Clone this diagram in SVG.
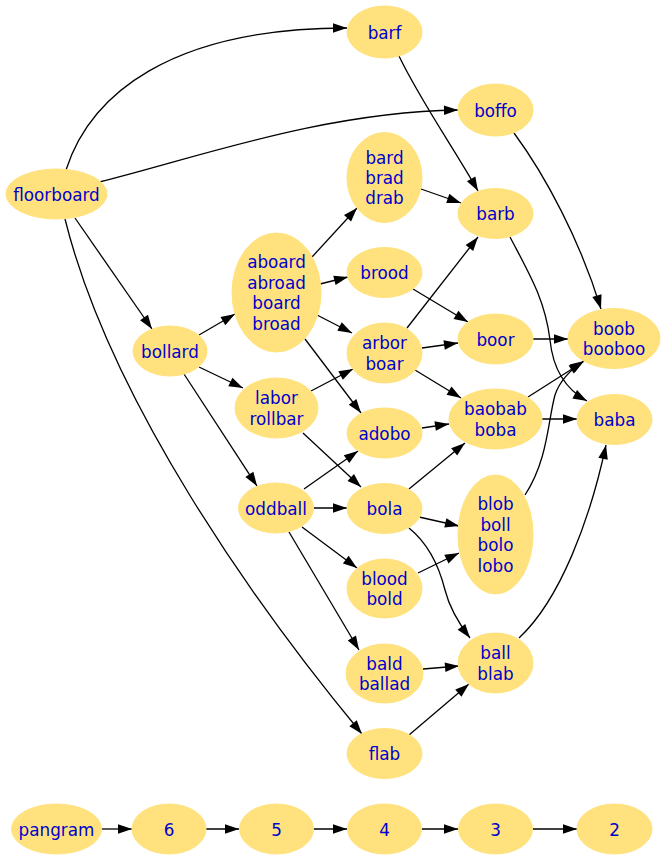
<svg xmlns="http://www.w3.org/2000/svg" width="666" height="860" viewBox="0 0 666 860">
<defs>
<marker id="arr" markerWidth="14" markerHeight="10" refX="14" refY="5" orient="auto" markerUnits="userSpaceOnUse" overflow="visible">
<path d="M0,0.2 L14,5 L0,9.8 z" fill="#000"/>
</marker>
</defs>
<style>
.n ellipse{fill:#ffe27d;stroke:#ffe27d;stroke-width:1}
.n text{font-family:"DejaVu Sans","Liberation Sans",sans-serif;font-size:16.8px;fill:#0000cd;text-anchor:middle}
#edges path{fill:none;stroke:#000;stroke-width:1.3;marker-end:url(#arr)}
</style>
<rect width="666" height="860" fill="#fff"/>
<g id="edges">
<path d="M66,170 C90,95 170,28 347,28"/>
<path d="M99,182 C190,160 320,112 458,110"/>
<path d="M75,218 L152,329"/>
<path d="M65,219 C110,400 255,605 362,734"/>
<path d="M399,56 C420,100 455,150 478,191"/>
<path d="M514,133 C545,175 580,240 601,309"/>
<path d="M421,189 L461,203"/>
<path d="M312,257 L357,208"/>
<path d="M320,284 L348,277"/>
<path d="M317,315 L352,333"/>
<path d="M305,339 L361,413"/>
<path d="M199,335 L235,314"/>
<path d="M199,367 L243,388"/>
<path d="M184,374 L257,486"/>
<path d="M413,289 L468,322"/>
<path d="M407,328 L478,237"/>
<path d="M422,348 L458,343"/>
<path d="M415,370 L461,398"/>
<path d="M311,391 L353,369"/>
<path d="M303,433 L361,487"/>
<path d="M510,237 C530,275 545,300 550,340 C553,370 567,390 587,401"/>
<path d="M533,339 L568,339"/>
<path d="M528,397 L583,362"/>
<path d="M542,419 L577,419"/>
<path d="M422,428 L449,424"/>
<path d="M304,489 L358,451"/>
<path d="M314,508 L347,508"/>
<path d="M302,527 L357,568"/>
<path d="M289,532 L359,650"/>
<path d="M409,489 L465,443"/>
<path d="M419,517 L459,526"/>
<path d="M409,528 C430,545 440,570 445,590 C450,610 460,625 470,638"/>
<path d="M418,573 L459,553"/>
<path d="M525,495 C548,460 548,420 555,395 C560,380 570,370 584,361"/>
<path d="M423,669 L459,666"/>
<path d="M409,735 L469,684"/>
<path d="M519,638 C560,600 590,520 606,445"/>
<path d="M101,829 L132,829"/>
<path d="M206,829 L239,829"/>
<path d="M313,829 L347,829"/>
<path d="M422,829 L458,829"/>
<path d="M533,829 L577,829"/>
</g>
<g id="barf" class="n"><ellipse cx="384.5" cy="32" rx="37.5" ry="26"/><text x="384.5" y="38.5">barf</text></g>
<g id="boffo" class="n"><ellipse cx="495.5" cy="110" rx="37.5" ry="26"/><text x="495.5" y="116.5">boffo</text></g>
<g id="floorboard" class="n"><ellipse cx="56.5" cy="194" rx="50.5" ry="25"/><text x="56.5" y="200.5">floorboard</text></g>
<g id="bard" class="n"><ellipse cx="384.5" cy="177.5" rx="37.5" ry="45"/><text x="384.5" y="163.6">bard</text><text x="384.5" y="184">brad</text><text x="384.5" y="204.4">drab</text></g>
<g id="barb" class="n"><ellipse cx="495.5" cy="213.5" rx="37.5" ry="25"/><text x="495.5" y="220">barb</text></g>
<g id="aboard" class="n"><ellipse cx="276.5" cy="292.5" rx="44.5" ry="59.5"/><text x="276.5" y="268.4">aboard</text><text x="276.5" y="288.8">abroad</text><text x="276.5" y="309.2">board</text><text x="276.5" y="329.6">broad</text></g>
<g id="brood" class="n"><ellipse cx="384.5" cy="272.5" rx="37.5" ry="25"/><text x="384.5" y="279">brood</text></g>
<g id="bollard" class="n"><ellipse cx="170" cy="351" rx="37" ry="25"/><text x="170" y="357.5">bollard</text></g>
<g id="arbor" class="n"><ellipse cx="384.5" cy="353" rx="37.5" ry="30"/><text x="384.5" y="349.3">arbor</text><text x="384.5" y="369.7">boar</text></g>
<g id="boor" class="n"><ellipse cx="495.5" cy="339" rx="37.5" ry="25"/><text x="495.5" y="345.5">boor</text></g>
<g id="boob" class="n"><ellipse cx="614" cy="338.5" rx="46" ry="30"/><text x="614" y="334.8">boob</text><text x="614" y="355.2">booboo</text></g>
<g id="labor" class="n"><ellipse cx="276.5" cy="408" rx="41.5" ry="30"/><text x="276.5" y="404.3">labor</text><text x="276.5" y="424.7">rollbar</text></g>
<g id="adobo" class="n"><ellipse cx="384.5" cy="433" rx="37.5" ry="25"/><text x="384.5" y="439.5">adobo</text></g>
<g id="baobab" class="n"><ellipse cx="495.5" cy="419" rx="46.5" ry="30"/><text x="495.5" y="415.3">baobab</text><text x="495.5" y="435.7">boba</text></g>
<g id="baba" class="n"><ellipse cx="614.5" cy="419.5" rx="37.5" ry="25"/><text x="614.5" y="426">baba</text></g>
<g id="oddball" class="n"><ellipse cx="276" cy="508" rx="37.5" ry="25"/><text x="276" y="514.5">oddball</text></g>
<g id="bola" class="n"><ellipse cx="384.5" cy="508.5" rx="37.5" ry="25"/><text x="384.5" y="515">bola</text></g>
<g id="blob" class="n"><ellipse cx="495.5" cy="534.5" rx="37.5" ry="59.5"/><text x="495.5" y="510.4">blob</text><text x="495.5" y="530.8">boll</text><text x="495.5" y="551.2">bolo</text><text x="495.5" y="571.6">lobo</text></g>
<g id="blood" class="n"><ellipse cx="384.5" cy="588.5" rx="37.5" ry="29.5"/><text x="384.5" y="584.8">blood</text><text x="384.5" y="605.2">bold</text></g>
<g id="bald" class="n"><ellipse cx="384.5" cy="673.5" rx="38.5" ry="29.5"/><text x="384.5" y="669.8">bald</text><text x="384.5" y="690.2">ballad</text></g>
<g id="ball" class="n"><ellipse cx="495.5" cy="663" rx="37.5" ry="30"/><text x="495.5" y="659.3">ball</text><text x="495.5" y="679.7">blab</text></g>
<g id="flab" class="n"><ellipse cx="384.5" cy="753.5" rx="37.5" ry="25"/><text x="384.5" y="760">flab</text></g>
<g id="pangram" class="n"><ellipse cx="56.5" cy="829" rx="45" ry="25"/><text x="56.5" y="835.5">pangram</text></g>
<g id="n6" class="n"><ellipse cx="169" cy="829" rx="37" ry="25"/><text x="169" y="835.5">6</text></g>
<g id="n5" class="n"><ellipse cx="276.5" cy="829" rx="37" ry="25"/><text x="276.5" y="835.5">5</text></g>
<g id="n4" class="n"><ellipse cx="384.5" cy="829" rx="37" ry="25"/><text x="384.5" y="835.5">4</text></g>
<g id="n3" class="n"><ellipse cx="495.5" cy="829" rx="37" ry="25"/><text x="495.5" y="835.5">3</text></g>
<g id="n2" class="n"><ellipse cx="614.5" cy="829" rx="37.5" ry="25"/><text x="614.5" y="835.5">2</text></g>
</svg>
